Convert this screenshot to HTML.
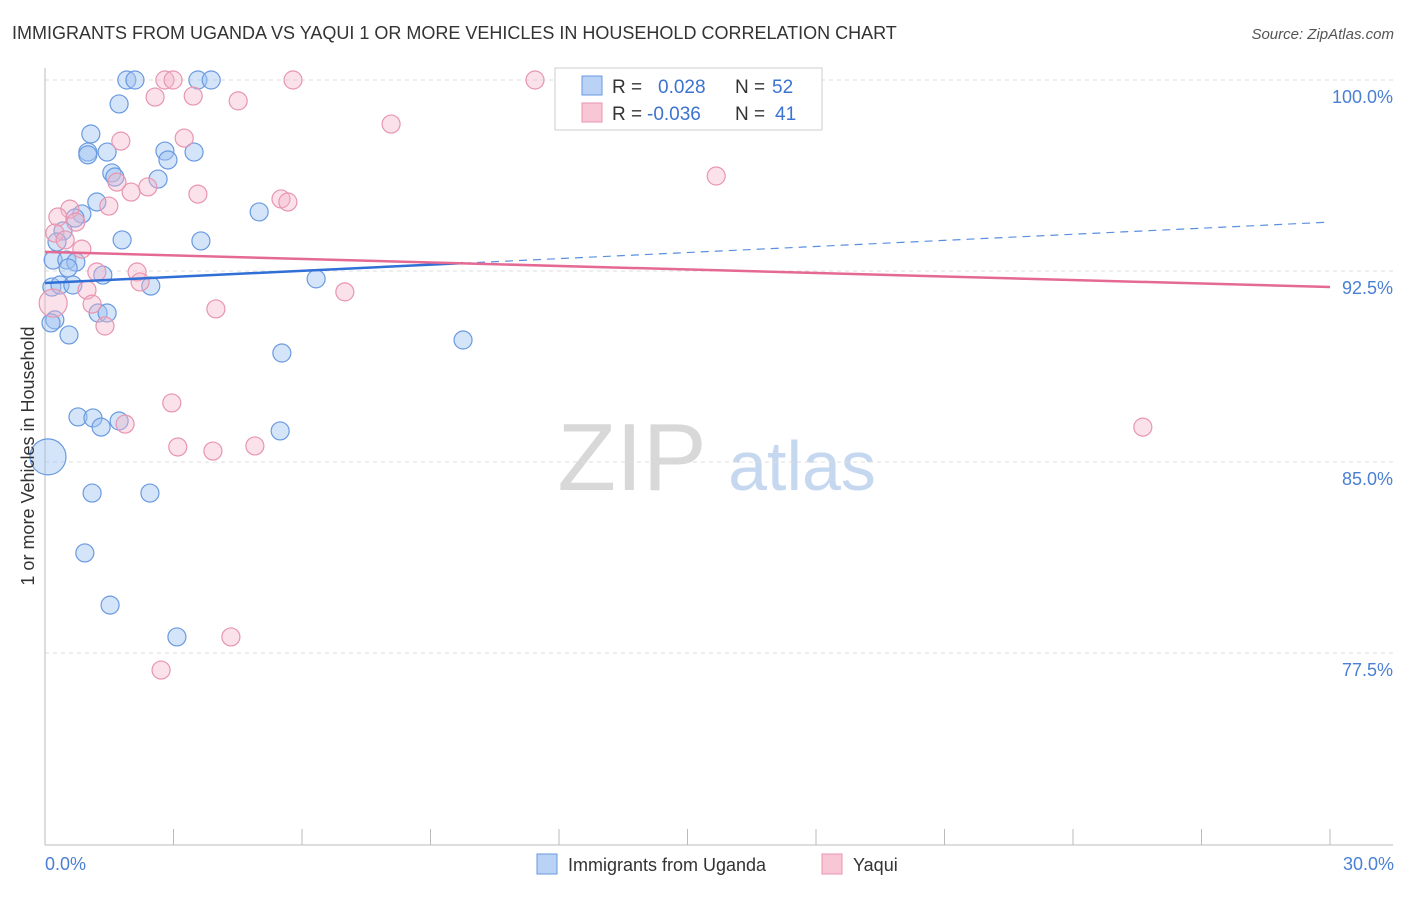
<!DOCTYPE html>
<html><head><meta charset="utf-8"><style>
body{margin:0;background:#fff;font-family:"Liberation Sans",sans-serif;}
svg text{font-family:"Liberation Sans",sans-serif;}
</style></head><body>
<svg id="chart" width="1406" height="892" xmlns="http://www.w3.org/2000/svg">
<text x="12" y="39" font-size="18" fill="#333">IMMIGRANTS FROM UGANDA VS YAQUI 1 OR MORE VEHICLES IN HOUSEHOLD CORRELATION CHART</text>
<text x="1394" y="39" font-size="15" fill="#555" font-style="italic" text-anchor="end">Source: ZipAtlas.com</text>
<g>
<text x="632" y="490" font-size="96" fill="#d8d8d8" text-anchor="middle" font-family="Liberation Serif">ZIP</text>
<text x="802" y="490" font-size="70" fill="#c6d8f0" text-anchor="middle">atlas</text>
</g>
<g id="grid"></g>
<g id="axes"></g>
<g id="marks"></g>
<g id="lines"></g>
<text transform="translate(34,456) rotate(-90)" font-size="18" fill="#333" text-anchor="middle">1 or more Vehicles in Household</text>
<text x="45" y="870" font-size="18" fill="#4a7fd4">0.0%</text>
<text x="1394" y="870" font-size="18" fill="#4a7fd4" text-anchor="end">30.0%</text>
<g>
<rect x="555" y="68" width="267" height="62" fill="#fff" stroke="#ccc"/>
<rect x="582" y="76" width="20" height="19" fill="#b9d2f5" stroke="#6a9ae0"/>
<rect x="582" y="103" width="20" height="19" fill="#f9c6d5" stroke="#e895b0"/>
<text x="612" y="93" font-size="19" fill="#333">R = </text><text x="658" y="93" font-size="19" fill="#3b73d0">0.028</text>
<text x="735" y="93" font-size="19" fill="#333">N = </text><text x="772" y="93" font-size="19" fill="#3b73d0">52</text>
<text x="612" y="120" font-size="19" fill="#333">R = </text><text x="647" y="120" font-size="19" fill="#3b73d0">-0.036</text>
<text x="735" y="120" font-size="19" fill="#333">N = </text><text x="775" y="120" font-size="19" fill="#3b73d0">41</text>
</g>
<g>
<rect x="537" y="854" width="20" height="20" fill="#b9d2f5" stroke="#6a9ae0"/>
<text x="568" y="871" font-size="18" fill="#333">Immigrants from Uganda</text>
<rect x="822" y="854" width="20" height="20" fill="#f9c6d5" stroke="#e895b0"/>
<text x="853" y="871" font-size="18" fill="#333">Yaqui</text>
</g>
</svg>
<script>
const blueX=[1.91,2.10,3.57,3.88,1.73,1.07,1.00,1.00,1.45,1.56,1.63,2.80,2.87,3.48,2.64,1.21,0.86,0.70,0.42,0.28,1.80,3.64,5.00,0.19,0.51,0.72,0.54,0.16,0.35,0.65,1.35,2.47,6.33,0.23,0.14,0.56,1.24,1.45,5.53,9.76,0.77,1.12,1.31,1.73,5.49,1.10,2.45,0.93,1.52,3.08,0.07];
const blueY=[100,100,100,100,99.06,97.88,97.17,97.06,97.17,96.35,96.19,97.21,96.86,97.17,96.11,95.21,94.74,94.58,94.07,93.64,93.72,93.68,94.82,92.93,92.93,92.85,92.62,91.87,91.95,91.95,92.34,91.91,92.19,90.58,90.46,89.99,90.85,90.85,89.28,89.79,86.77,86.73,86.37,86.61,86.22,83.78,83.78,81.43,79.38,78.13,85.20];
const blueR=[9,9,9,9,9,9,9,9,9,9,9,9,9,9,9,9,9,9,9,9,9,9,9,9,9,9,9,9,9,9,9,9,9,9,9,9,9,9,9,9,9,9,9,9,9,9,9,9,9,9,18];
const pinkX=[2.80,2.99,5.79,11.44,2.57,3.46,4.51,8.08,3.25,1.77,1.68,2.01,2.40,3.57,5.51,5.67,15.67,1.49,0.58,0.30,0.72,0.23,0.47,0.86,1.21,2.15,2.22,0.98,1.10,3.99,1.40,7.00,2.96,1.87,3.10,3.92,4.90,25.63,4.34,2.71,0.19];
const pinkY=[100,100,100,100,99.33,99.37,99.18,98.27,97.72,97.60,95.99,95.60,95.80,95.52,95.33,95.21,96.23,95.05,94.93,94.62,94.42,93.99,93.72,93.36,92.46,92.46,92.07,91.75,91.20,91.01,90.34,91.68,87.32,86.49,85.59,85.43,85.63,86.37,78.13,76.83,91.24];
const pinkR=[9,9,9,9,9,9,9,9,9,9,9,9,9,9,9,9,9,9,9,9,9,9,9,9,9,9,9,9,9,9,9,9,9,9,9,9,9,9,9,9,14];
const yTicks=[100,92.5,85,77.5];
const yTickLabels=["100.0%","92.5%","85.0%","77.5%"];
const xTicks=[0,3,6,9,12,15,18,21,24,27,30];
const blueTrend=[92.03,94.42];
const pinkTrend=[93.25,91.87];
const blueMaxX=9.76;
const NS="http://www.w3.org/2000/svg";
function sx(v){return 45+v/30*1285;}
function sy(v){return 80+(100-v)/7.5*191;}
function mk(t,a,p){const e=document.createElementNS(NS,t);for(const k in a)e.setAttribute(k,a[k]);document.getElementById(p).appendChild(e);return e;}
yTicks.forEach((v,i)=>{
 const g=mk('line',{x1:45,x2:1393,y1:sy(v),y2:sy(v),stroke:'#ddd','stroke-dasharray':'4,4'},'grid');
 
 
 const t=mk('text',{x:1393,y:sy(v)+23,'font-size':18,fill:'#4a7fd4','text-anchor':'end'},'grid');
 t.textContent=yTickLabels[i];
 
 
});
const ax=mk('line',{x1:45,x2:1393,y1:845,y2:845,stroke:'#bbb'},'axes');


const ay=mk('line',{x1:45,x2:45,y1:68,y2:845,stroke:'#bbb'},'axes');


xTicks.forEach(v=>{
 const l=mk('line',{x1:sx(v),x2:sx(v),y1:829,y2:845,stroke:'#bbb'},'axes');
 
 
});
blueX.forEach((x,i)=>{
 const c=mk('circle',{cx:sx(x),cy:sy(blueY[i]),r:blueR[i],fill:'rgba(160,195,242,0.45)',stroke:'#6a9ae0','stroke-width':1.2},'marks');
 
 
});
pinkX.forEach((x,i)=>{
 const c=mk('circle',{cx:sx(x),cy:sy(pinkY[i]),r:pinkR[i],fill:'rgba(246,180,200,0.4)',stroke:'#e895b0','stroke-width':1.2},'marks');
 
 
});
function at(tr,x){return tr[0]+(tr[1]-tr[0])*x/30;}
const bs=mk('line',{x1:sx(0),y1:sy(blueTrend[0]),x2:sx(blueMaxX),y2:sy(at(blueTrend,blueMaxX)),stroke:'#2f6fd6','stroke-width':2.5},'lines');


const bd=mk('line',{x1:sx(blueMaxX),y1:sy(at(blueTrend,blueMaxX)),x2:sx(30),y2:sy(blueTrend[1]),stroke:'#5b8fe0','stroke-width':1.2,'stroke-dasharray':'8,6'},'lines');


const pl=mk('line',{x1:sx(0),y1:sy(pinkTrend[0]),x2:sx(30),y2:sy(pinkTrend[1]),stroke:'#e56a93','stroke-width':2.5},'lines');


</script>
</body></html>
